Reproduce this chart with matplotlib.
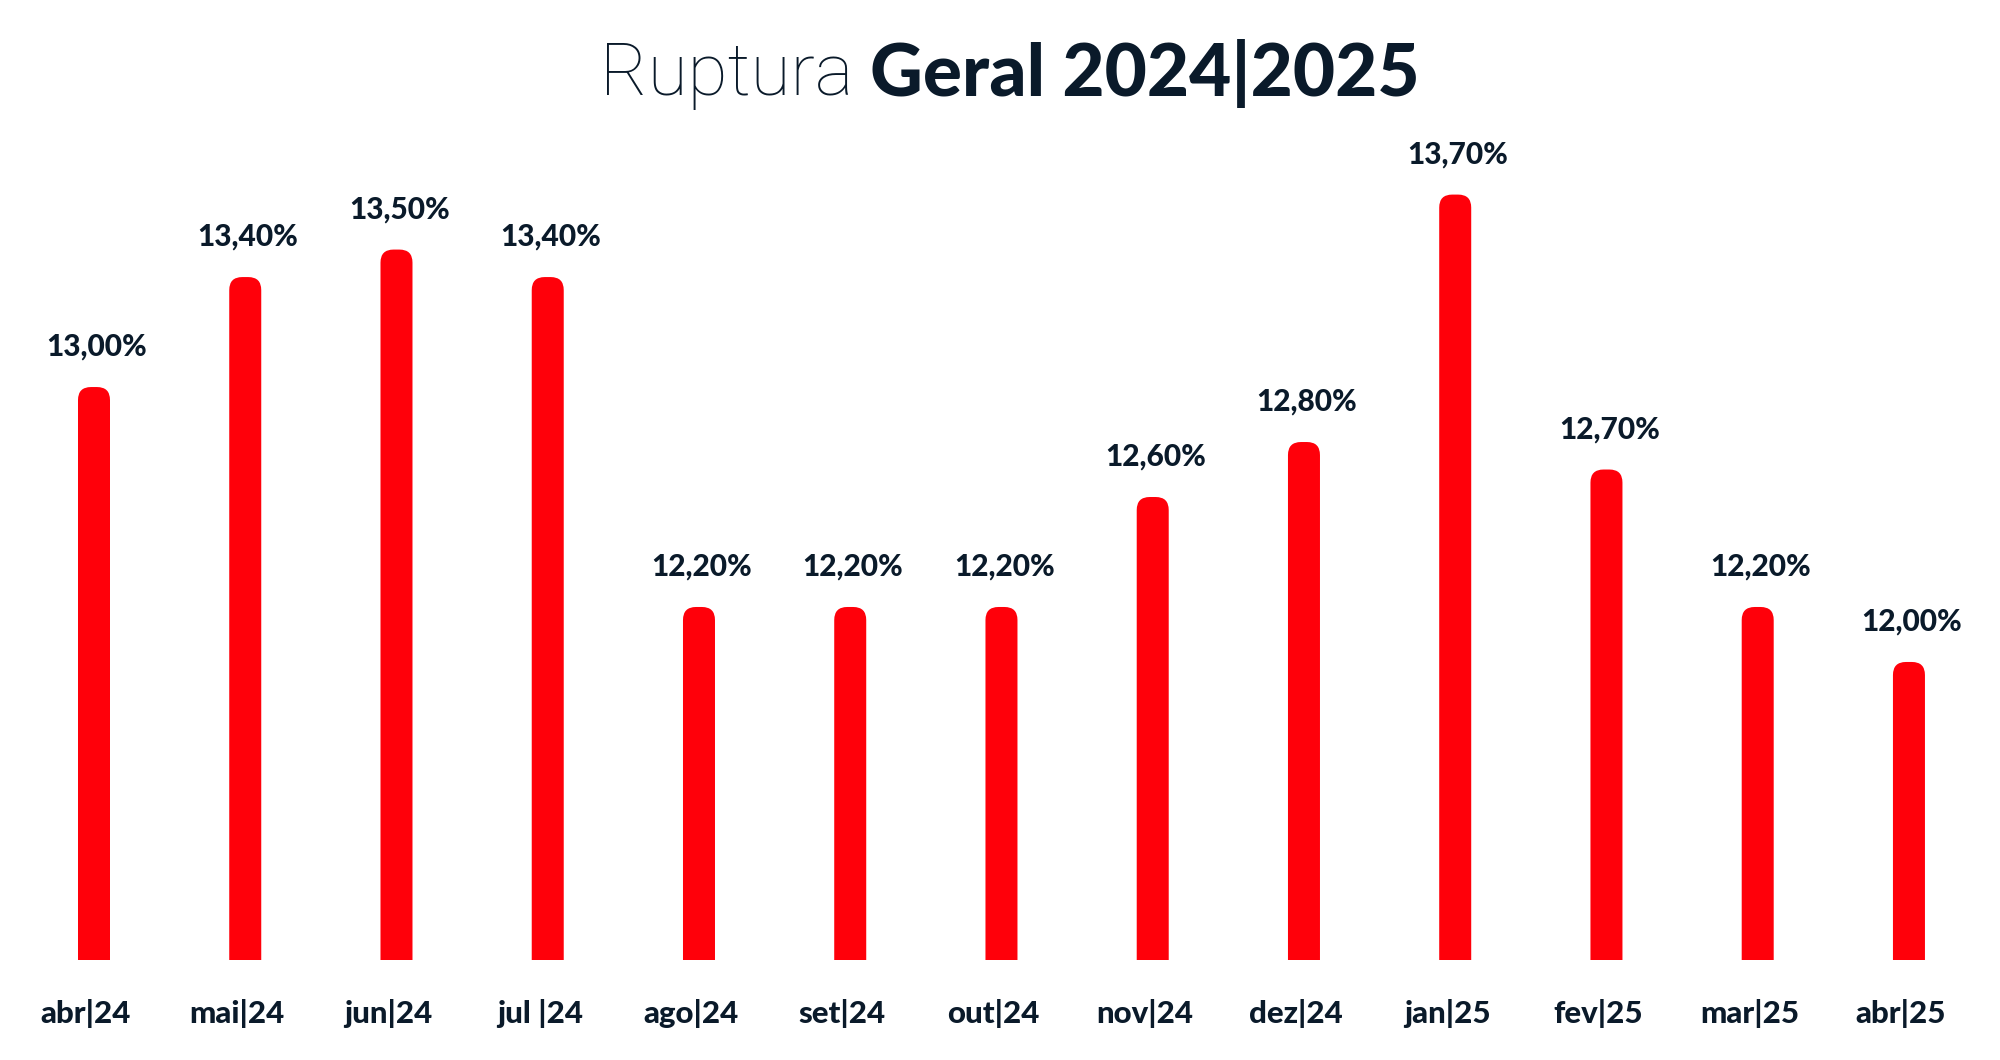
import matplotlib
matplotlib.use("Agg")
import matplotlib.pyplot as plt
from matplotlib.patches import FancyBboxPatch
from matplotlib.offsetbox import TextArea, HPacker, AnchoredOffsetbox
import matplotlib.transforms as mtransforms

months = ["abr|24", "mai|24", "jun|24", "jul |24", "ago|24", "set|24", "out|24",
          "nov|24", "dez|24", "jan|25", "fev|25", "mar|25", "abr|25"]
values = [13.0, 13.4, 13.5, 13.4, 12.2, 12.2, 12.2, 12.6, 12.8, 13.7, 12.7, 12.2, 12.0]
value_labels = ["13,00%", "13,40%", "13,50%", "13,40%", "12,20%", "12,20%", "12,20%",
                "12,60%", "12,80%", "13,70%", "12,70%", "12,20%", "12,00%"]
title_light = "Ruptura"
title_bold = "Geral 2024|2025"

RED = "#FF000A"
NAVY = "#0A1A2A"
FONT = "Lato"

W, H, DPI = 2000, 1060, 100
fig = plt.figure(figsize=(W / DPI, H / DPI), dpi=DPI)
fig.patch.set_facecolor("white")

ax_bottom_px, ax_top_px = 960, 100
ax = fig.add_axes([0, 1 - ax_bottom_px / H, 1, (ax_bottom_px - ax_top_px) / H])
ax.set_facecolor("none")

x = list(range(len(values)))
XLIM = (-0.6215, 12.602)
YLIM = (10.916, 14.044)
ax.set_xlim(*XLIM)
ax.set_ylim(*YLIM)

bar_w = 0.2116
base = 10.0
bars = ax.bar(x, [v - base for v in values], bottom=base, width=bar_w, color=RED)

# convert to rounded-top bars
px_per_x = W / (XLIM[1] - XLIM[0])
px_per_y = (ax_bottom_px - ax_top_px) / (YLIM[1] - YLIM[0])
r_px = 13
rx = r_px / px_per_x
ry = r_px / px_per_y
for rect in bars:
    bx, by = rect.get_x(), rect.get_y()
    bw, bh = rect.get_width(), rect.get_height()
    rect.set_visible(False)
    p = FancyBboxPatch((bx, by), bw, bh,
                       boxstyle=f"round,pad=0,rounding_size={rx}",
                       mutation_aspect=ry / rx,
                       facecolor=RED, edgecolor="none", clip_on=True)
    ax.add_patch(p)

for xi, v, lab in zip(x, values, value_labels):
    ax.annotate(lab, (xi, v), xytext=(2, 19), textcoords="offset points",
                ha="center", va="bottom", fontsize=21.5, fontweight="black",
                color=NAVY, family=FONT)

ax.set_xticks(x)
ax.set_xticklabels(months, fontsize=22.5, fontweight="black", color=NAVY, family=FONT)
ax.tick_params(axis="x", length=0, pad=28)
offset = mtransforms.ScaledTranslation(-8 / DPI, 0, fig.dpi_scale_trans)
for lbl in ax.get_xticklabels():
    lbl.set_transform(lbl.get_transform() + offset)
ax.set_yticks([])
for s in ax.spines.values():
    s.set_visible(False)

t1 = TextArea(title_light, textprops=dict(fontsize=52.5, fontweight="light",
                                          color=NAVY, family="Roboto"))
t2 = TextArea(title_bold, textprops=dict(fontsize=52.5, fontweight="black",
                                         color=NAVY, family=FONT))
pack = HPacker(children=[t1, t2], align="baseline", pad=0, sep=12)
anch = AnchoredOffsetbox(loc="center", child=pack, frameon=False,
                         bbox_to_anchor=(1010 / W, 1 - 75 / H),
                         bbox_transform=fig.transFigure, pad=0, borderpad=0)
fig.add_artist(anch)

fig.savefig("out.png", dpi=DPI, facecolor="white")
